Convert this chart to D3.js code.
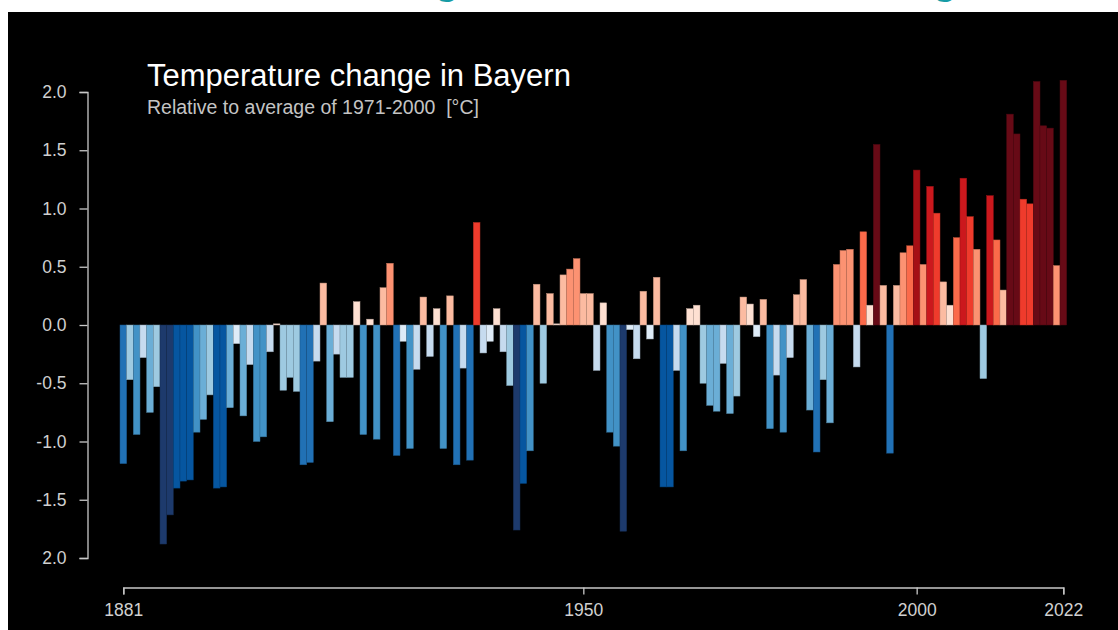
<!DOCTYPE html>
<html>
<head>
<meta charset="utf-8">
<script src="https://cdn.jsdelivr.net/npm/d3@7"></script>
<style>
  html, body { margin: 0; padding: 0; background: #fff; }
  svg { display: block; }
  text { font-family: "Liberation Sans", Arial, Helvetica, sans-serif; }
</style>
</head>
<body>
<div id="root"></div>
<script>
// years 1881..2022
const years = d3.range(1881, 2023);

// anomaly relative to 1971-2000 [°C]
const anomalies = [
  -1.19, -0.47, -0.94, -0.28, -0.75, -0.53, -1.88, -1.63, -1.40, -1.34,
  -1.33, -0.92, -0.81, -0.60, -1.40, -1.39, -0.71, -0.16, -0.78, -0.34,
  -1.00, -0.96, -0.23,  0.01, -0.56, -0.45, -0.57, -1.20, -1.18, -0.31,
   0.36, -0.83, -0.25, -0.45, -0.45,  0.20, -0.94,  0.05, -0.98,  0.32,
   0.53, -1.12, -0.14, -1.06, -0.38,  0.24, -0.27,  0.14, -1.06,  0.25,
  -1.20, -0.37, -1.16,  0.88, -0.24, -0.14,  0.14, -0.23, -0.52, -1.76,
  -1.36, -1.08,  0.35, -0.50,  0.27,  0.01,  0.43,  0.48,  0.57,  0.27,
   0.27, -0.39,  0.19, -0.92, -1.04, -1.77, -0.04, -0.29,  0.29, -0.12,
   0.41, -1.39, -1.39, -0.39, -1.08,  0.14,  0.17, -0.50, -0.69, -0.74,
  -0.33, -0.76, -0.61,  0.24,  0.18, -0.10,  0.22, -0.89, -0.43, -0.92,
  -0.28,  0.26,  0.39, -0.73, -1.09, -0.47, -0.84,  0.52,  0.64,  0.65,
  -0.36,  0.80,  0.17,  1.55,  0.34, -1.10,  0.34,  0.62,  0.68,  1.33,
   0.52,  1.19,  0.96,  0.37,  0.17,  0.75,  1.26,  0.93,  0.65, -0.46,
   1.11,  0.73,  0.30,  1.81,  1.64,  1.08,  1.04,  2.09,  1.71,  1.69,
   0.51,  2.10
];

const xTickYears = [1881, 1950, 2000, 2022];
const yTickValues = [2, 1.5, 1, 0.5, 0, -0.5, -1, -1.5, -2];
const yTickLabels = ["2.0", "1.5", "1.0", "0.5", "0.0", "-0.5", "-1.0", "-1.5", "2.0"];

// stripes palette
const stripeColors = [
  "#1d3a6c", "#0656a0", "#2171b5", "#4292c6", "#6baed6", "#9ecae1", "#c6dbef", "#deebf7",
  "#fee0d2", "#fcbba1", "#fc9272", "#fb6a4a", "#ef3b2c", "#cb181d", "#a50f15", "#670a16"
];
const stripeBreaks = [-1.526, -1.308, -1.085, -0.872, -0.654, -0.436, -0.218, 0,
                      0.218, 0.436, 0.654, 0.872, 1.09, 1.308, 1.526];

const width = 1118, height = 630;

const svg = d3.select("#root").append("svg")
    .attr("width", width)
    .attr("height", height);

// black panel
svg.append("rect")
    .attr("x", 8).attr("y", 12)
    .attr("width", width - 8).attr("height", height - 12)
    .attr("fill", "#000");

// bits of the page heading, cut off at the top edge
svg.append("g").selectAll("text")
    .data([447, 945])
    .enter().append("text")
    .attr("x", d => d)
    .attr("y", -6)
    .attr("text-anchor", "middle")
    .attr("fill", "#169ca6")
    .attr("font-size", 40)
    .attr("font-weight", "bold")
    .text("g");

const x = d3.scaleLinear()
    .domain([1881, 2022])
    .range([123.33, 1063.33]);
const barW = x(1882) - x(1881);

const y = d3.scaleLinear()
    .domain([-2, 2])
    .range([558, 92]);

const color = d3.scaleThreshold()
    .domain(stripeBreaks)
    .range(stripeColors);

// bars
svg.append("g").selectAll("rect")
    .data(years.map((yr, i) => ({year: yr, value: anomalies[i]})))
    .enter().append("rect")
    .attr("x", d => x(d.year) - barW / 2)
    .attr("width", barW)
    .attr("y", d => y(Math.max(0, d.value)))
    .attr("height", d => Math.abs(y(d.value) - y(0)))
    .attr("fill", d => color(d.value))
    .attr("stroke", d => d3.color(color(d.value)).darker(0.8))
    .attr("stroke-width", 0.5);

// y axis
const yAxis = svg.append("g")
    .attr("transform", "translate(87.5,0)")
    .call(d3.axisLeft(y)
        .tickValues(yTickValues)
        .tickFormat((d, i) => yTickLabels[i])
        .tickSize(8)
        .tickSizeOuter(8)
        .tickPadding(13));

// x axis
const xAxis = svg.append("g")
    .attr("transform", "translate(0,587.5)")
    .call(d3.axisBottom(x)
        .tickValues(xTickYears)
        .tickFormat(d3.format("d"))
        .tickSize(7)
        .tickSizeOuter(7)
        .tickPadding(9));

[yAxis, xAxis].forEach(ax => {
    ax.selectAll("path, line").attr("stroke", "#c8c8c8").attr("stroke-width", 1.3);
    ax.selectAll("text")
        .attr("fill", "#d0d0d0")
        .attr("font-size", 17.5)
        .style("font-family", "'Liberation Sans', Arial, sans-serif");
});

// titles
svg.append("text")
    .attr("x", 147).attr("y", 86)
    .attr("fill", "#fff")
    .attr("font-size", 31)
    .text("Temperature change in Bayern");

svg.append("text")
    .attr("x", 147).attr("y", 114)
    .attr("fill", "#c4c4c4")
    .attr("font-size", 19.5)
    .style("white-space", "pre")
    .text("Relative to average of 1971-2000  [°C]");
</script>
</body>
</html>
